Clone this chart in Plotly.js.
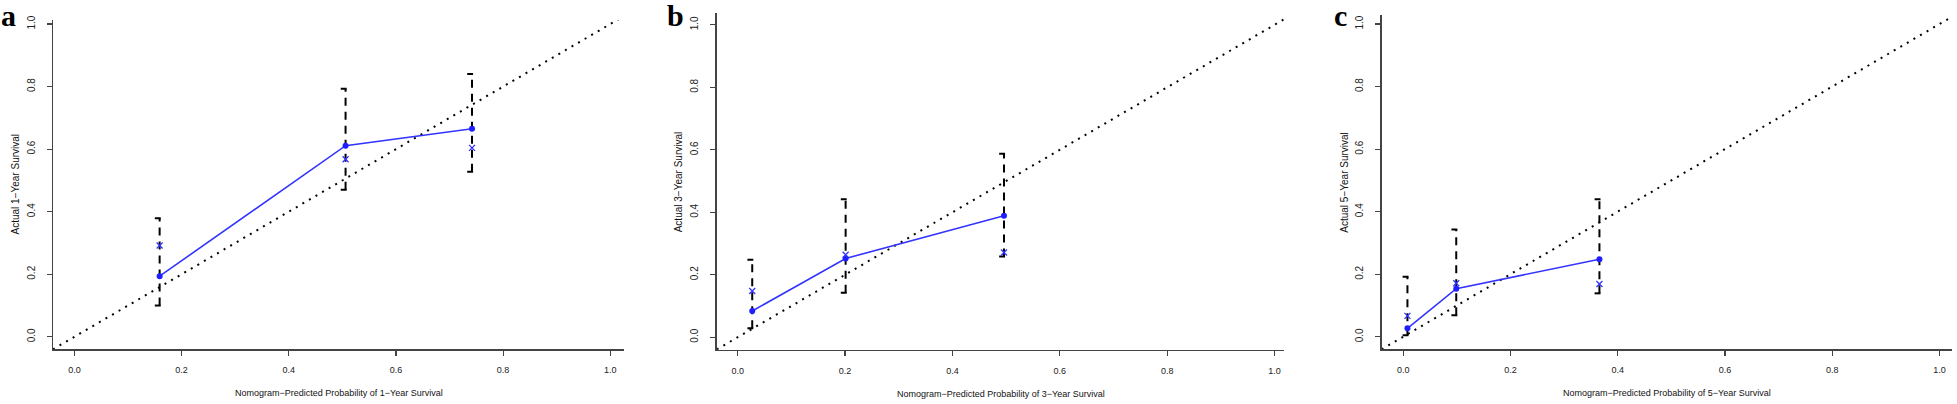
<!DOCTYPE html>
<html>
<head>
<meta charset="utf-8">
<script src="https://cdn.plot.ly/plotly-3.0.1.min.js"></script>
<style>
  html, body { margin: 0; padding: 0; background: #fff; }
  #chart { width: 1957px; height: 404px; }
</style>
</head>
<body>
<div id="chart"></div>
<script>
// ---------- data ----------
const tickVals = [0, 0.2, 0.4, 0.6, 0.8, 1.0];
const tickText = ["0.0", "0.2", "0.4", "0.6", "0.8", "1.0"];
const panelLetters = ["a", "b", "c"];
const xTitles = [
  "Nomogram\u2212Predicted Probability of 1\u2212Year Survival",
  "Nomogram\u2212Predicted Probability of 3\u2212Year Survival",
  "Nomogram\u2212Predicted Probability of 5\u2212Year Survival"
];
const yTitles = [
  "Actual 1\u2212Year Survival",
  "Actual 3\u2212Year Survival",
  "Actual 5\u2212Year Survival"
];

// 1-year
const predA  = [0.159, 0.506, 0.742];
const obsA   = [0.194, 0.611, 0.665];
const kmA    = [0.292, 0.568, 0.604];
const lowerA = [0.100, 0.470, 0.528];
const upperA = [0.379, 0.793, 0.840];
// 3-year
const predB  = [0.027, 0.201, 0.496];
const obsB   = [0.084, 0.252, 0.389];
const kmB    = [0.148, 0.264, 0.271];
const lowerB = [0.029, 0.142, 0.258];
const upperB = [0.248, 0.442, 0.587];
// 5-year
const predC  = [0.008, 0.099, 0.366];
const obsC   = [0.027, 0.154, 0.248];
const kmC    = [0.067, 0.171, 0.169];
const lowerC = [0.005, 0.069, 0.139];
const upperC = [0.192, 0.343, 0.440];

// ---------- layout geometry (pixels of the 1957x404 canvas) ----------
const W = 1957, H = 404;
const panels = [
  { px: [53, 624.2],     py: [20, 349],     xr: [-0.040, 1.026], yr: [-0.039, 1.013],
    pred: predA, obs: obsA, km: kmA, lo: lowerA, hi: upperA, letterX: 8.5 },
  { px: [716.8, 1284.2], py: [13.3, 349.7], xr: [-0.039, 1.018], yr: [-0.040, 1.037],
    pred: predB, obs: obsB, km: kmB, lo: lowerB, hi: upperB, letterX: 675 },
  { px: [1381.7, 1952.3], py: [15, 349],    xr: [-0.040, 1.024], yr: [-0.039, 1.029],
    pred: predC, obs: obsC, km: kmC, lo: lowerC, hi: upperC, letterX: 1340 }
];

const BLUE = "#3434ff";
const AXIS = "#444444";
const traces = [];
const layout = {
  width: W, height: H,
  margin: { l: 0, r: 0, t: 0, b: 0 },
  paper_bgcolor: "#ffffff",
  plot_bgcolor: "#ffffff",
  showlegend: false,
  annotations: []
};

const capLeft = 0.009, capRight = 0.002; // cap extent in data units

panels.forEach((p, i) => {
  const n = i === 0 ? "" : String(i + 1);
  const xa = "x" + n, ya = "y" + n;

  // dotted reference diagonal (ideal calibration), clipped by the axes
  traces.push({
    x: [p.xr[0], p.xr[1]], y: [p.xr[0], p.xr[1]],
    xaxis: xa, yaxis: ya, mode: "lines", hoverinfo: "skip",
    line: { color: "#000000", width: 2, dash: "2px,5.6px" }
  });

  // dashed error bars
  const ex = [], ey = [], cx = [], cy = [];
  p.pred.forEach((x, k) => {
    ex.push(x, x, null); ey.push(p.lo[k], p.hi[k], null);
    cx.push(x - capLeft, x + capRight, null); cy.push(p.hi[k], p.hi[k], null);
    cx.push(x - capLeft, x + capRight, null); cy.push(p.lo[k], p.lo[k], null);
  });
  traces.push({
    x: ex, y: ey, xaxis: xa, yaxis: ya, mode: "lines", hoverinfo: "skip",
    line: { color: "#000000", width: 2, dash: "8px,6px" }
  });
  traces.push({
    x: cx, y: cy, xaxis: xa, yaxis: ya, mode: "lines", hoverinfo: "skip",
    line: { color: "#000000", width: 2 }
  });

  // observed (blue line + dots)
  traces.push({
    x: p.pred, y: p.obs, xaxis: xa, yaxis: ya, mode: "lines+markers",
    line: { color: BLUE, width: 1.6 },
    marker: { color: "#1e1eff", size: 6, symbol: "circle" }
  });
  // bias-corrected estimates (blue x)
  traces.push({
    x: p.pred, y: p.km, xaxis: xa, yaxis: ya, mode: "markers",
    marker: { color: BLUE, size: 6, symbol: "x-thin-open", line: { color: BLUE, width: 1.3 } }
  });

  layout["xaxis" + n] = {
    domain: [p.px[0] / W, p.px[1] / W],
    range: p.xr, anchor: ya,
    showgrid: false, zeroline: false,
    showline: true, linecolor: AXIS, linewidth: 1.5,
    ticks: "outside", ticklen: 5, tickwidth: 1.2, tickcolor: AXIS,
    tickvals: tickVals, ticktext: tickText,
    tickfont: { family: "Liberation Sans, Arial", size: 9, color: "#222" },
    ticklabelstandoff: 7
  };
  layout["yaxis" + n] = {
    domain: [1 - p.py[1] / H, 1 - p.py[0] / H],
    range: p.yr, anchor: xa,
    showgrid: false, zeroline: false,
    showline: true, linecolor: AXIS, linewidth: 1.5,
    ticks: "outside", ticklen: 5, tickwidth: 1.2, tickcolor: AXIS,
    tickvals: tickVals, ticktext: tickText, tickangle: -90,
    tickfont: { family: "Liberation Sans, Arial", size: 10, color: "#222" },
    ticklabelstandoff: 8
  };

  // axis titles
  layout.annotations.push({
    text: xTitles[i], xref: xa + " domain", yref: ya + " domain",
    x: 0.5, y: 0, xanchor: "center", yanchor: "middle", yshift: -44, showarrow: false,
    font: { family: "Liberation Sans, Arial", size: 9, color: "#111" }
  });
  layout.annotations.push({
    text: yTitles[i], xref: xa + " domain", yref: ya + " domain",
    x: 0, y: 0.5, xanchor: "center", yanchor: "middle", xshift: -38, textangle: -90,
    showarrow: false,
    font: { family: "Liberation Sans, Arial", size: 10, color: "#111" }
  });
  // panel letter
  layout.annotations.push({
    text: "<b>" + panelLetters[i] + "</b>", xref: "paper", yref: "paper",
    x: p.letterX / W, y: 1 - 15 / H, xanchor: "center", yanchor: "middle", showarrow: false,
    font: { family: "Liberation Serif, Times New Roman, serif", size: 30, color: "#000" }
  });
});

Plotly.newPlot("chart", traces, layout, { staticPlot: true, displayModeBar: false });
</script>
</body>
</html>
